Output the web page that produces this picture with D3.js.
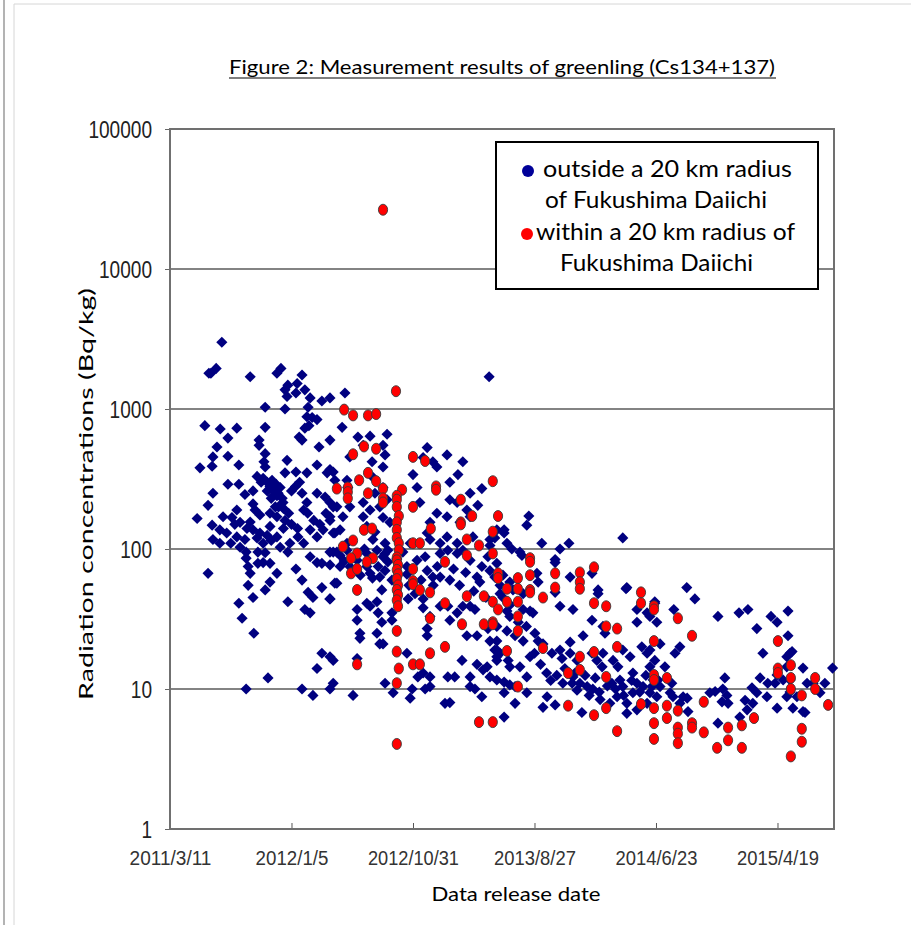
<!DOCTYPE html>
<html>
<head>
<meta charset="utf-8">
<script src="https://cdn.jsdelivr.net/npm/d3@7"></script>
<style>
  body { margin: 0; background: #fff; }
  svg { display: block; }
</style>
</head>
<body>
<svg id="chart" width="911" height="925"></svg>
<script>
// days since 2011/3/11, Bq/kg
const outside20km = [
  [128,3000],[114,1950],[96,1800],[101,1800],[198,1700],[274,1950],[264,1800],[326,1750],
  [291,1480],[314,1520],[284,1370],[311,1300],[289,1230],[333,1370],
  [346,1200],[375,1140],[395,1200],[235,1030],[284,1000],
  [341,1030],[338,880],[351,870],[363,840],[333,730],[343,760],
  [86,760],[124,720],[165,730],[235,740],
  [143,620],[116,535],[106,455],[104,390],[74,380],
  [220,600],[220,550],[319,630],[326,600],[395,600],[368,535],
  [143,460],[170,398],[235,480],[232,420],[235,385],
  [289,430],[284,350],[311,355],[338,350],[363,398],[388,350],[403,355],
  [143,290],[170,290],
  [230,320],[240,300],[247,280],[252,310],[257,260],[262,290],[267,250],[272,275],[277,230],[264,240],[250,230],[279,215],
  [106,250],[94,205],[67,165],[185,245],[205,260],
  [326,250],[338,215],[363,250],[383,235],[403,200],
  [131,170],[153,168],[165,190],[173,155],[198,156],[222,175],
  [247,180],[264,170],[284,160],[247,145],
  [104,148],[123,137],[106,117],[123,110],
  [165,122],[173,103],[185,117],[205,137],[222,130],[230,110],
  [264,122],[272,103],[296,110],[316,122],[346,137],[363,122],[378,137],[403,130],
  [215,330],[225,300],[240,260],[255,240],[268,200],[280,195],[293,180],[300,260],[310,280],[320,300],
  [330,190],[340,180],[355,160],[370,150],[385,180],[395,160],[205,210],[210,190],[260,200],[280,140],
  [300,150],[315,140],[330,110],[250,115],[240,125],[215,120],[190,140],[160,150],[150,110],[140,130],
  [188,95],[217,95],[235,94],[217,79],[230,80],[94,67],
  [188,86],[193,75],[198,67],[193,55],
  [247,79],[264,67],[247,58],[235,51],[205,45],
  [170,41],[178,32],[207,25],[291,42],
  [311,72],[326,60],[341,49],[353,45],[375,53],[395,44],[333,37],[346,35],
  [291,95],[346,88],[363,80],[375,79],[403,95],[412,57],
  [375,18],[395,17],[403,16],[363,14],[242,12],
  [188,10],[326,10],[353,9],[395,10],[403,11],
  [788,1700],[432,1300],[425,740],
  [464,630],[494,640],[536,660],[477,550],
  [444,455],[499,420],[526,550],[531,470],[526,385],
  [635,530],[625,450],[649,420],[659,385],[684,470],
  [723,420],[711,340],[691,300],[600,340],
  [395,370],[407,310],[437,310],[439,275],[501,325],[526,275],[506,250],[610,275],
  [691,225],[709,215],[741,250],[770,270],[760,205],[733,190],[716,155],[741,170],
  [395,215],[412,200],[444,200],[477,215],[494,190],[518,200],[536,225],
  [617,215],[659,180],[684,170],[642,155],[635,130],
  [395,170],[427,170],[420,137],[407,130],[477,170],[486,145],[506,132],[526,168],[543,155],
  [437,110],[501,117],[531,110],[593,110],[642,117],[667,110],[684,122],[709,110],[748,122],[790,117],[807,137],
  [395,95],[412,95],[437,98],[395,77],[420,75],[444,75],[462,83],[486,75],[486,93],[511,98],[526,88],[538,98],
  [514,75],[494,67],[518,63],[531,70],[548,60],[538,81],[585,75],[585,66],[610,83],[630,88],[635,70],[649,63],
  [667,93],[686,98],[709,93],[667,63],[691,60],[723,98],[741,83],[758,63],[770,75],[785,88],[807,79],
  [420,90],[430,82],[455,70],[470,65],[480,100],[500,62],[530,92],[560,85],[575,95],[590,55],
  [605,48],[620,60],[650,55],[660,75],[700,72],[715,55],[730,68],[750,50],[765,58],[780,45],
  [395,44],[407,57],[462,37],[462,31],[469,25],[469,23],[486,41],[494,39],[511,42],[523,51],[514,35],[511,25],
  [523,30],[526,21],[548,31],[548,35],[588,44],[625,44],[625,38],[635,27],[635,24],[642,33],[667,39],[686,39],
  [691,31],[709,35],[723,39],[741,39],[733,24],[758,24],[753,37],[785,27],[807,22],[807,28],
  [462,16.5],[518,21],[531,11],[551,9.4],[585,18],[598,10],[593,8.6],[612,12.2],[625,13],[642,12.2],[630,10],
  [642,10.4],[679,7.9],[691,8],[686,12.2],[703,12.2],[721,16],[741,12.2],[741,10.4],[758,15],[753,10],[770,8.8],
  [773,13.7],[783,14.4],[790,12.2],[807,19],[807,17],[807,11.6],[452,9],
  [886,172],[881,148],[825,137],[825,130],[802,120],[832,110],[844,100],[864,95],[869,90],[918,110],[963,100],
  [985,110],[951,84],[1118,120],[790,106],
  [790,70],[802,63],[822,65],[815,55],[839,58],[847,51],[822,45],[815,48],[872,48],[906,67],[909,58],[951,80],
  [951,49],[988,63],[1042,67],[1057,51],[1057,48],[1128,53],[832,36],[839,33],[872,37],[889,36],[896,35],[963,39],
  [995,37],[1042,31],[1069,28],[1074,25],[1153,37],[1153,30],[1178,35],[1197,42],[1202,30],
  [832,26],[852,24],[872,22],[901,25],[909,22],[921,21],[790,22],[802,19],[807,16],[815,18],[835,16],[839,14.4],
  [864,14.4],[881,12.2],[889,17],[825,11.2],[839,10.7],[852,10.4],[825,9.4],[881,9.4],[852,7.9],[825,6.3],
  [840,40],[860,30],[880,28],[900,18],[915,15],[930,13],[940,11.5],[955,12.5],[975,14],[1000,13],
  [1025,12.5],[1035,9],[1050,12],[1060,9.5],[1080,10.5],[1100,10],[1120,9],[1140,11.5],[1160,9.5],[1175,12.5],
  [943,18],[963,19],[968,16.5],[988,21.6],[988,18],[1020,24],[1005,16],[1012,11],[1030,10.4],[995,12.2],[970,11],
  [993,11],[1005,9.8],[1017,6.8],[931,8.8],[921,7.4],[951,7.7],
  [1042,18],[1054,16],[1069,18],[1067,14.4],[1094,16],[1106,14.4],[1111,11.6],[1118,19],[1118,10.4],[1136,17],
  [1143,13],[1143,9.4],[1128,7.9],[1104,8.8],[1086,7.9],[1044,10],[1062,8.4],[1091,11],[1153,11],[1165,20],
  [1178,18],[1185,14.4],[1197,16],[1168,10.4],[1185,9.4],[1202,8.8],[1205,11.6],[1178,7.9],[1153,7.1],[1128,6.7],
  [1126,52],
  [1276,53],[1296,44],[1244,37],[1259,20],[1247,18],[1210,21],[1197,41],[1185,33],[1185,19],
  [1222,14.4],[1239,11],[1235,9.4],[1242,8.8],[1193,11.6],[1190,10.4],[1210,10.4],[1267,8.8],[1277,8.6],
  [1259,7.9],[1279,6.9],
  [1333,9.4],[1346,9.6],[1370,12],[1365,10],[1375,9],[1363,8.1],[1378,7.9],[1353,5.7],[1353,33],
  [1405,35],[1427,37],[1449,27],[1464,18],[1457,12],[1476,11],[1499,12.6],[1494,11],[1437,10.2],[1449,9.4],
  [1474,8.8],[1420,8.3],[1425,7.1],[1439,7.9],[1407,6.3],[1499,7.3],
  [1484,33],[1499,30],[1526,36],[1526,24],[1523,17],[1531,18],[1536,18.5],[1523,14.4],[1514,11.6],[1531,11.6],
  [1523,8.8],[1531,9.5],[1548,8.8],[1538,7.3],[1563,14.1],[1573,11],[1563,6.9],[1568,6.8],[1588,11],[1597,10],
  [1605,9.4],[1617,11],[1636,14.1]
];

const within20km = [
  [526,26500],[558,1340],
  [430,990],[452,900],[489,900],[509,920],
  [479,540],[509,520],[452,475],
  [489,350],[509,305],[467,310],[439,275],[412,270],[439,255],[489,250],[439,230],
  [526,270],[573,265],[526,230],[526,215],
  [600,455],[630,425],[657,280],[657,265],
  [560,240],[560,225],[560,200],[565,172],[560,155],[560,137],[560,120],[565,110],[565,98],[560,87],
  [560,83],[563,77],[560,71],[563,66],[560,61],[563,55],[560,51],[563,47],[560,43],[563,39],
  [560,26],[560,18.5],[565,14],[560,11],[560,4.05],
  [600,200],[644,140],[718,225],[746,172],[718,155],[718,150],
  [797,305],[810,172],[797,133],[797,93],
  [479,137],[499,140],[452,115],[427,104],[462,93],[501,86],
  [600,110],[617,110],[733,117],[763,106],
  [447,86],[447,67],[462,72],[486,81],[462,51],
  [600,72],[600,59],[600,56],[617,51],[642,49],[679,81],[679,41],[642,32],
  [733,90],[810,67],[810,62],
  [733,46],[775,46],[797,42],[810,37],[775,29],[797,30],[721,29],
  [679,20],[642,18],[600,15],[617,15],[462,15],
  [763,5.8],[797,5.8],
  [889,86],[889,81],[889,65],[889,51],[889,49],[921,45],[951,67],[951,53],[1012,68],[1012,58],[1012,52],
  [1047,74],[1047,41],[1077,39],[1077,28],[1104,27],[1104,20],[1047,18.4],[1012,17],[1012,13.7],[983,13],
  [921,19.6],[859,62],[859,52],[859,42],[859,33],[859,26],[832,52],[832,42],[832,18.7],[797,29],[859,10.4],
  [983,7.6],[1047,6.5],[1077,7.3],[1104,5],[1077,12.2],
  [1163,49],[1163,41],[1195,39],[1195,37],[1195,22],[1195,12.6],[1195,11.6],[1163,7.8],[1195,7.3],[1195,5.7],[1195,4.4],
  [1227,12],[1227,7.6],[1227,6.2],[1254,32],[1254,7],[1254,5.3],[1254,4.8],[1254,4.1],[1289,24],[1289,5.7],
  [1289,5.3],[1318,8.1],[1318,4.9],[1351,3.8],[1378,5.3],[1378,4.3],[1412,5.5],[1412,3.8],[1442,6.2],
  [1501,22],[1501,14],[1501,13],[1533,14.8],[1533,12],[1533,10],[1560,9],[1560,5.2],[1560,4.2],
  [1593,12],[1593,10],[1625,7.7],[1533,3.3]
];

const xTickDays = [0, 300, 600, 900, 1200, 1500];
const xTickLabels = ["2011/3/11", "2012/1/5", "2012/10/31", "2013/8/27", "2014/6/23", "2015/4/19"];
const yTicks = [1, 10, 100, 1000, 10000, 100000];
const legendLines = [
  "outside  a 20 km radius",
  "of Fukushima Daiichi",
  "within a 20 km radius of",
  "Fukushima Daiichi"
];

const svg = d3.select('#chart');
const plot = {left: 170, right: 834, top: 129, bottom: 829};
const labelFont = "Lato, 'Open Sans', sans-serif";
const tickFont = "'Liberation Sans', Arial, sans-serif";

// page borders
svg.append('line').attr('x1', 4).attr('x2', 4).attr('y1', 0).attr('y2', 925)
  .attr('stroke', '#9a9a9a').attr('stroke-width', 1.5);
svg.append('line').attr('x1', 14).attr('x2', 14).attr('y1', 4).attr('y2', 925)
  .attr('stroke', '#d6d6d6').attr('stroke-width', 1);
svg.append('line').attr('x1', 14).attr('x2', 911).attr('y1', 4).attr('y2', 4)
  .attr('stroke', '#d6d6d6').attr('stroke-width', 1);

const x = d3.scaleLinear().domain([0, 1642]).range([plot.left, 835]);
const y = d3.scaleLog().domain([1, 100000]).range([plot.bottom, plot.top]);

// title
svg.append('text')
  .attr('x', 502).attr('y', 74)
  .attr('text-anchor', 'middle')
  .attr('font-family', labelFont).attr('font-size', 19)
  .attr('textLength', 546).attr('lengthAdjust', 'spacingAndGlyphs')
  .text('Figure 2: Measurement results of greenling (Cs134+137)');
svg.append('line').attr('x1', 229).attr('x2', 776).attr('y1', 78).attr('y2', 78)
  .attr('stroke', '#000').attr('stroke-width', 1.2);

// gridlines
svg.append('g').selectAll('line')
  .data(yTicks.slice(1, -1))
  .join('line')
  .attr('x1', plot.left).attr('x2', plot.right)
  .attr('y1', d => y(d)).attr('y2', d => y(d))
  .attr('stroke', '#5a5a5a').attr('stroke-width', 1.6);

// y axis
const yAxis = svg.append('g')
  .attr('transform', `translate(${plot.left},0)`)
  .call(d3.axisLeft(y).tickValues(yTicks).tickSize(5).tickFormat(d3.format('d')));
yAxis.select('.domain').remove();
yAxis.selectAll('.tick line').attr('stroke', '#666');
yAxis.selectAll('.tick text')
  .attr('x', -18).attr('dy', '0.36em')
  .attr('font-family', tickFont).attr('font-size', 23).attr('fill', '#222')
  .attr('textLength', d => String(d).length * 10.6)
  .attr('lengthAdjust', 'spacingAndGlyphs');

// x axis
const xAxis = svg.append('g')
  .attr('transform', `translate(0,${plot.bottom})`)
  .call(d3.axisBottom(x).tickValues(xTickDays).tickSizeInner(-6).tickSizeOuter(0)
    .tickFormat((d, i) => xTickLabels[i]));
xAxis.select('.domain').remove();
xAxis.selectAll('.tick line').attr('stroke', '#555');
xAxis.selectAll('.tick text')
  .attr('y', 36).attr('dy', 0)
  .attr('font-family', tickFont).attr('font-size', 20).attr('fill', '#333')
  .attr('textLength', (d, i) => xTickLabels[i].length * 9.1)
  .attr('lengthAdjust', 'spacingAndGlyphs');

// frame
svg.append('rect')
  .attr('x', plot.left).attr('y', plot.top)
  .attr('width', plot.right - plot.left).attr('height', plot.bottom - plot.top)
  .attr('fill', 'none').attr('stroke', '#707070').attr('stroke-width', 2);

// axis titles
svg.append('text')
  .attr('transform', 'translate(93,494) rotate(-90)')
  .attr('text-anchor', 'middle')
  .attr('font-family', labelFont).attr('font-size', 19)
  .attr('textLength', 412).attr('lengthAdjust', 'spacingAndGlyphs')
  .text('Radiation concentrations (Bq/kg)');
svg.append('text')
  .attr('x', 516).attr('y', 901)
  .attr('text-anchor', 'middle')
  .attr('font-family', labelFont).attr('font-size', 20)
  .attr('textLength', 169).attr('lengthAdjust', 'spacingAndGlyphs')
  .text('Data release date');

// points
const diamond = d3.symbol(d3.symbolSquare, 62);
svg.append('g').selectAll('path')
  .data(outside20km)
  .join('path')
  .attr('d', diamond)
  .attr('transform', d => `translate(${x(d[0])},${y(d[1])}) rotate(45)`)
  .attr('fill', '#000080');

svg.append('g').selectAll('ellipse')
  .data(within20km)
  .join('ellipse')
  .attr('cx', d => x(d[0])).attr('cy', d => y(d[1]))
  .attr('rx', 4.6).attr('ry', 5.5)
  .attr('fill', '#ff0000').attr('stroke', '#3a3a3a').attr('stroke-width', 0.9);

// legend
const lg = svg.append('g');
lg.append('rect')
  .attr('x', 496).attr('y', 142).attr('width', 322).attr('height', 147)
  .attr('fill', '#fff').attr('stroke', '#000').attr('stroke-width', 2);
const legendPos = [
  {x: 543, y: 177, w: 249},
  {x: 545, y: 208, w: 222},
  {x: 536, y: 240, w: 259},
  {x: 560, y: 271, w: 193}
];
lg.selectAll('text')
  .data(legendLines)
  .join('text')
  .attr('x', (d, i) => legendPos[i].x).attr('y', (d, i) => legendPos[i].y)
  .attr('font-family', labelFont).attr('font-size', 23)
  .attr('textLength', (d, i) => legendPos[i].w).attr('lengthAdjust', 'spacingAndGlyphs')
  .text(d => d);
lg.append('circle').attr('cx', 528).attr('cy', 171).attr('r', 6).attr('fill', '#000099');
lg.append('circle').attr('cx', 527).attr('cy', 234).attr('r', 6).attr('fill', '#ff0000');
</script>
</body>
</html>
